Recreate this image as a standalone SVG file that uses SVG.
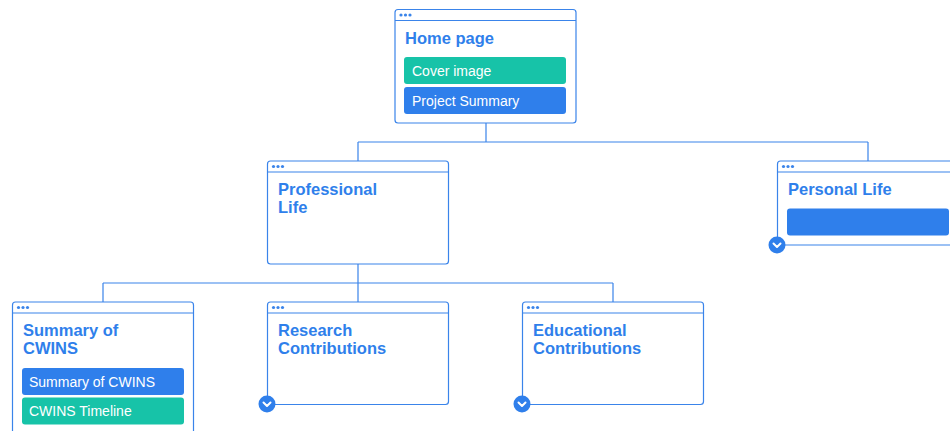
<svg xmlns="http://www.w3.org/2000/svg" width="950" height="431" viewBox="0 0 950 431">
  <style>
    .card { fill: #ffffff; stroke: #3a84ea; stroke-width: 1.2; }
    .bar-line { stroke: #3a84ea; stroke-width: 1.2; }
    .dot { fill: #3a84ea; }
    .title { font-family: "Liberation Sans", Arial, sans-serif; font-weight: bold; font-size: 16.5px; fill: #2f7feb; }
    .item { font-family: "Liberation Sans", Arial, sans-serif; font-size: 14px; fill: #ffffff; }
    .blue { fill: #2f7feb; }
    .green { fill: #17c3a8; }
    .link { fill: none; stroke: #3a84ea; stroke-width: 1.2; }
    .toggle { fill: #2f7feb; }
    .chev { fill: none; stroke: #ffffff; stroke-width: 2; stroke-linecap: round; stroke-linejoin: round; }
  </style>
  <defs>
    <g id="chrome">
      <circle class="dot" cx="6" cy="6" r="1.6"/>
      <circle class="dot" cx="10.5" cy="6" r="1.6"/>
      <circle class="dot" cx="15" cy="6" r="1.6"/>
    </g>
    <g id="toggle">
      <circle class="toggle" cx="0" cy="0" r="8.5"/>
      <path class="chev" d="M-3.5,-1.5 L0,2 L3.5,-1.5"/>
    </g>
  </defs>

  <rect width="950" height="431" fill="#ffffff"/>

  <!-- tree connectors -->
  <g id="connectors">
    <path class="link" d="M486,123 V142 M358,142 H868 M358,142 V161 M868,142 V161"/>
    <path class="link" d="M358,264 V283 M103,283 H613 M103,283 V302 M358,283 V302 M613,283 V302"/>
  </g>

  <!-- Home page -->
  <g id="home">
    <rect class="card" x="395" y="9.5" width="181" height="113.5" rx="3"/>
    <line class="bar-line" x1="395" y1="20.5" x2="576" y2="20.5"/>
    <use href="#chrome" x="395" y="9"/>
    <text class="title" x="405" y="44">Home page</text>
    <rect class="green" x="404" y="57" width="162" height="27" rx="3"/>
    <text class="item" x="412" y="75.5">Cover image</text>
    <rect class="blue" x="404" y="87" width="162" height="27" rx="3"/>
    <text class="item" x="412" y="105.5">Project Summary</text>
  </g>

  <!-- Professional Life -->
  <g id="professional">
    <rect class="card" x="267.5" y="161" width="181" height="103" rx="3"/>
    <line class="bar-line" x1="267.5" y1="172" x2="448.5" y2="172"/>
    <use href="#chrome" x="267.5" y="160.5"/>
    <text class="title" x="278" y="195">Professional</text>
    <text class="title" x="278" y="213">Life</text>
  </g>

  <!-- Personal Life -->
  <g id="personal">
    <rect class="card" x="777.5" y="161" width="181" height="84" rx="3"/>
    <line class="bar-line" x1="777.5" y1="172" x2="958.5" y2="172"/>
    <use href="#chrome" x="777.5" y="160.5"/>
    <text class="title" x="788" y="195">Personal Life</text>
    <rect class="blue" x="787" y="208.5" width="162" height="27" rx="3"/>
    <use href="#toggle" x="777" y="245"/>
  </g>

  <!-- Summary of CWINS -->
  <g id="summary">
    <rect class="card" x="12.5" y="302" width="181" height="134" rx="3"/>
    <line class="bar-line" x1="12.5" y1="313" x2="193.5" y2="313"/>
    <use href="#chrome" x="12.5" y="301.5"/>
    <text class="title" x="23" y="336">Summary of</text>
    <text class="title" x="23" y="354">CWINS</text>
    <rect class="blue" x="22" y="368" width="162" height="27" rx="3"/>
    <text class="item" x="29" y="386.5">Summary of CWINS</text>
    <rect class="green" x="22" y="397.5" width="162" height="27" rx="3"/>
    <text class="item" x="29" y="416">CWINS Timeline</text>
  </g>

  <!-- Research Contributions -->
  <g id="research">
    <rect class="card" x="267.5" y="302" width="181" height="102.5" rx="3"/>
    <line class="bar-line" x1="267.5" y1="313" x2="448.5" y2="313"/>
    <use href="#chrome" x="267.5" y="301.5"/>
    <text class="title" x="278" y="336">Research</text>
    <text class="title" x="278" y="354">Contributions</text>
    <use href="#toggle" x="267" y="404"/>
  </g>

  <!-- Educational Contributions -->
  <g id="educational">
    <rect class="card" x="522.5" y="302" width="181" height="102.5" rx="3"/>
    <line class="bar-line" x1="522.5" y1="313" x2="703.5" y2="313"/>
    <use href="#chrome" x="522.5" y="301.5"/>
    <text class="title" x="533" y="336">Educational</text>
    <text class="title" x="533" y="354">Contributions</text>
    <use href="#toggle" x="522" y="404"/>
  </g>
</svg>
